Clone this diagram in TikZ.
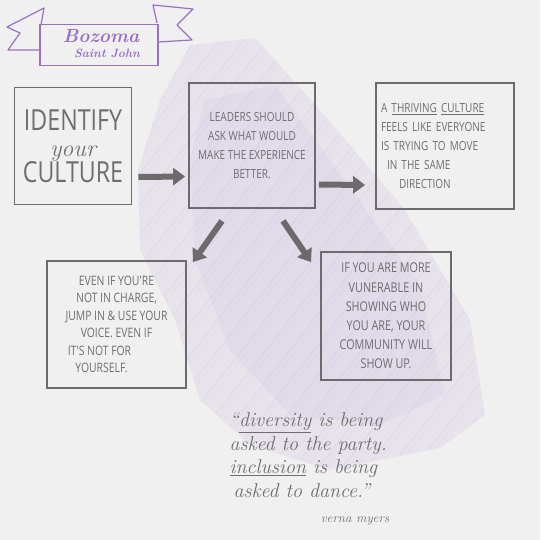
\documentclass[tikz,border=0pt]{standalone}
\usepackage{fontspec}
\usepackage{xcolor}
\usetikzlibrary{arrows.meta, positioning, calc}
\newfontfamily\hand[FakeStretch=0.8]{Open Sans}
\definecolor{paper}{HTML}{F1F0F1}
\definecolor{inkgray}{HTML}{6F6D6F}
\definecolor{linegray}{HTML}{6C6A6C}
\definecolor{bannerpurple}{HTML}{9A6FC6}
\definecolor{scrib}{HTML}{A98CCB}
\tikzset{
  box/.style={draw=linegray, line width=1.8pt, inner sep=0pt, align=center,
              text=inkgray},
  capsbox/.style={box, font=\hand\fontsize{12.5}{19}\selectfont},
  fatarrow/.style={-{Triangle[length=12pt,width=17pt]}, line width=6pt,
                   draw=linegray},
  script/.style={font=\itshape, text=inkgray},
  scribble/.style={draw=scrib, line width=3.5pt, line cap=round},
}

\begin{document}
\begin{tikzpicture}[x=1pt, y=-1pt]
  % paper
  \fill[paper] (0,0) rectangle (540,540);
  \useasboundingbox (0,0) rectangle (540,540);

  % purple pencil shading
  \fill[scrib, opacity=0.09] (190,45) -- (255,38) -- (320,110) -- (405,210)
    -- (470,320) -- (485,415) -- (440,448) -- (330,470) -- (250,445)
    -- (200,400) -- (175,320) -- (140,250) -- (138,170) -- (160,100) -- cycle;
  \fill[scrib, opacity=0.08] (205,100) -- (275,85) -- (345,180) -- (420,285)
    -- (445,395) -- (380,425) -- (290,415) -- (230,350) -- (195,260)
    -- (190,160) -- cycle;
  \begin{scope}
    \clip (190,45) -- (255,38) -- (320,110) -- (405,210) -- (470,320)
      -- (485,415) -- (440,448) -- (330,470) -- (250,445) -- (200,400)
      -- (175,320) -- (140,250) -- (138,170) -- (160,100) -- cycle;
    \foreach \k [evaluate=\k as \op using {0.03+0.05*mod(\k*7,4)/3}] in {0,...,110}
      \draw[scribble, opacity=\op] (\k*6-200, 540) -- ++(390,-500);
  \end{scope}

  % banner
  \draw[bannerpurple, line width=1.2pt, line join=round]
    (41,25) -- (44,8) -- (7,27) -- (20,33) -- (8,50) -- (41,50);
  \draw[bannerpurple, line width=1.2pt, line join=round]
    (157,23) -- (153,5) -- (193,9) -- (177,25) -- (192,40) -- (158,42);
  \node[draw=bannerpurple, line width=1.6pt, minimum width=118pt,
        minimum height=41pt, inner sep=0pt] (banner) at (99,45) {};
  \node[font=\bfseries\itshape\fontsize{19}{19}\selectfont, text=bannerpurple]
    (bozoma) at (101,36) {Bozoma};
  \node[font=\bfseries\itshape\fontsize{12}{12}\selectfont, text=bannerpurple,
        below=-1pt of bozoma, xshift=6pt] (saint) {Saint John};

  % boxes
  \node[box, font=\hand\fontsize{29}{26}\selectfont, minimum width=117pt,
        minimum height=117pt] (ident) at (73,146)
    {IDENTIFY\\ {\rmfamily\itshape\fontsize{24}{20}\selectfont your}\\ CULTURE};
  \node[capsbox, minimum width=126pt, minimum height=125pt] (lead)
    at (252,145.5) {LEADERS SHOULD\\ ASK WHAT WOULD\\ MAKE THE EXPERIENCE\\
    BETTER.};
  \node[capsbox, align=left, minimum width=138pt, minimum height=126pt,
        text width=128pt] (thrive) at (445,146)
    {A \underline{THRIVING} \underline{CULTURE}\\ FEELS LIKE EVERYONE\\
     IS TRYING TO MOVE\\ \hspace*{6pt}IN THE SAME\\ \hspace*{18pt}DIRECTION};
  \node[capsbox, font=\hand\fontsize{13}{17.5}\selectfont, minimum width=139pt,
        minimum height=127pt] (even) at (116.5,324.5)
    {EVEN IF YOU'RE\\ NOT IN CHARGE,\\ JUMP IN \& USE YOUR\\ VOICE. EVEN IF\\
     \hspace*{-34pt}IT'S NOT FOR\\ \hspace*{-30pt}YOURSELF.};
  \node[capsbox, font=\hand\fontsize{13.5}{19.2}\selectfont, minimum width=130pt,
        minimum height=128pt] (vuln) at (386,316)
    {IF YOU ARE MORE\\ VUNERABLE IN\\ SHOWING WHO\\ YOU ARE, YOUR\\
     COMMUNITY WILL\\ SHOW UP.};

  % arrows
  \draw[fatarrow] ([xshift=6pt,yshift=-31pt]ident.east)
    -- ([xshift=-3pt,yshift=-31pt]lead.west);
  \draw[fatarrow] ([xshift=3pt,yshift=-39pt]lead.east)
    -- ([xshift=-10pt,yshift=-39pt]thrive.west);
  \draw[fatarrow] ([xshift=-30pt,yshift=-12pt]lead.south)
    -- ([xshift=6pt,yshift=-2pt]even.north east);
  \draw[fatarrow] ([xshift=31pt,yshift=-12pt]lead.south)
    -- ([xshift=-9pt,yshift=-11pt]vuln.north west);

  % quote
  \node[script, anchor=west, align=left,
        font=\itshape\fontsize{20}{23.5}\selectfont] (quote) at (226,455)
    {``\underline{diversity} is being\\ asked to the party.\\
     \underline{inclusion} is being\\ \hspace*{4pt}asked to dance.''};
  \node[script, font=\itshape\fontsize{13}{13}\selectfont] (author)
    at (355,521) {verna myers};
\end{tikzpicture}
\end{document}
